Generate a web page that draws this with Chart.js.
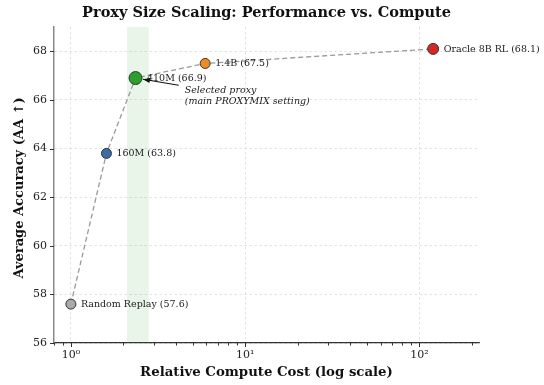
<!DOCTYPE html>
<html>
<head>
<meta charset="utf-8">
<script src="https://cdn.jsdelivr.net/npm/chart.js@4.4.1/dist/chart.umd.min.js"></script>
<style>
  html, body { margin: 0; padding: 0; background: #fff; }
  #wrap { width: 544px; height: 385px; }
</style>
</head>
<body>
<div id="wrap"><canvas id="c" width="544" height="385"></canvas></div>
<script>
// Proxy model sizes and their compute / accuracy
const names = ['Random Replay', '160M', '410M', '1.4B', 'Oracle 8B RL'];
const compute = [1.0, 1.6, 2.35, 5.9, 120];
const accuracy = [57.6, 63.8, 66.9, 67.5, 68.1];
const pointColors = ['#aaaaaa', '#3b6ea8', '#2ca02c', '#f28a24', '#d62728'];
const pointSizes = [5, 5, 6.5, 5, 5.5];

// Axis ranges and ticks
const xRange = [0.8, 220];
const yRange = [56, 69];
const yTicks = [56, 58, 60, 62, 64, 66, 68];
const xMajor = [1, 10, 100];
const xMajorLabels = ['10⁰', '10¹', '10²'];

// Highlighted compute band around the selected proxy
const bandRange = [2.1, 2.8];
const selectedIndex = 2;
const noteLines = ['Selected proxy', '(main PROXYMIX setting)'];
const notePos = [4.5, 66.4];

const SERIF = '"DejaVu Serif", "Liberation Serif", serif';

const xMinor = [];
for (let d = 0.1; d <= 100; d *= 10) {
  for (let k = 1; k <= 9; k++) {
    const v = +(k * d).toPrecision(3);
    if (v >= xRange[0] && v <= xRange[1] && !xMajor.includes(v)) xMinor.push(v);
  }
}

const decor = {
  id: 'decor',
  beforeDatasetsDraw(chart) {
    const { ctx, chartArea: a, scales: { x } } = chart;
    const x0 = x.getPixelForValue(bandRange[0]);
    const x1 = x.getPixelForValue(bandRange[1]);
    ctx.save();
    ctx.fillStyle = 'rgba(44,160,44,0.10)';
    ctx.fillRect(x0, a.top, x1 - x0, a.bottom - a.top);
    ctx.restore();
  },
  afterDatasetsDraw(chart) {
    const { ctx, scales: { x, y } } = chart;
    ctx.save();
    ctx.fillStyle = '#1a1a1a';
    ctx.font = '9.5px ' + SERIF;
    ctx.textBaseline = 'middle';
    ctx.textAlign = 'left';
    names.forEach((n, i) => {
      const px = x.getPixelForValue(compute[i]);
      const py = y.getPixelForValue(accuracy[i]);
      ctx.fillText(`${n} (${accuracy[i].toFixed(1)})`, px + pointSizes[i] + 5, py + 0.5);
    });

    // Note with arrow pointing at the selected proxy
    const tx = x.getPixelForValue(notePos[0]);
    const ty = y.getPixelForValue(notePos[1]);
    ctx.font = 'italic 9.5px ' + SERIF;
    noteLines.forEach((l, k) => ctx.fillText(l, tx, ty + k * 11.5));
    const sx = x.getPixelForValue(compute[selectedIndex]);
    const sy = y.getPixelForValue(accuracy[selectedIndex]);
    const startX = tx - 6, startY = ty - 5;
    const ang = Math.atan2(sy - startY, sx - startX);
    const endX = sx - Math.cos(ang) * (pointSizes[selectedIndex] + 1);
    const endY = sy - Math.sin(ang) * (pointSizes[selectedIndex] + 1);
    ctx.strokeStyle = '#111';
    ctx.fillStyle = '#111';
    ctx.lineWidth = 1.1;
    ctx.beginPath();
    ctx.moveTo(startX, startY);
    ctx.lineTo(endX, endY);
    ctx.stroke();
    const hl = 7, hw = 2.5;
    ctx.beginPath();
    ctx.moveTo(endX, endY);
    ctx.lineTo(endX - hl * Math.cos(ang) - hw * Math.sin(ang), endY - hl * Math.sin(ang) + hw * Math.cos(ang));
    ctx.lineTo(endX - hl * Math.cos(ang) + hw * Math.sin(ang), endY - hl * Math.sin(ang) - hw * Math.cos(ang));
    ctx.closePath();
    ctx.fill();
    ctx.restore();
  },
  afterDraw(chart) {
    const { ctx, chartArea: a, scales: { x, y } } = chart;
    ctx.save();
    // tick marks
    ctx.strokeStyle = '#333';
    ctx.lineWidth = 1;
    ctx.beginPath();
    xMajor.forEach(v => {
      const p = Math.round(x.getPixelForValue(v)) + 0.5;
      ctx.moveTo(p, a.bottom); ctx.lineTo(p, a.bottom + 4);
    });
    xMinor.forEach(v => {
      const p = Math.round(x.getPixelForValue(v)) + 0.5;
      ctx.moveTo(p, a.bottom); ctx.lineTo(p, a.bottom + 2.5);
    });
    yTicks.forEach(v => {
      const p = Math.round(y.getPixelForValue(v)) + 0.5;
      ctx.moveTo(a.left - 4, p); ctx.lineTo(a.left, p);
    });
    ctx.stroke();

    // titles
    ctx.fillStyle = '#111';
    ctx.textAlign = 'center';
    ctx.textBaseline = 'middle';
    ctx.font = 'bold 14.5px ' + SERIF;
    ctx.fillText('Proxy Size Scaling: Performance vs. Compute', (a.left + a.right) / 2, 13);
    ctx.font = 'bold 13.3px ' + SERIF;
    ctx.fillText('Relative Compute Cost (log scale)', (a.left + a.right) / 2, 373);
    ctx.font = 'bold 13px ' + SERIF;
    ctx.translate(20, (a.top + a.bottom) / 2 + 3);
    ctx.rotate(-Math.PI / 2);
    ctx.fillText('Average Accuracy (AA ↑)', 0, 0);
    ctx.restore();
  }
};

new Chart(document.getElementById('c'), {
  type: 'scatter',
  data: {
    datasets: [{
      data: compute.map((c, i) => ({ x: c, y: accuracy[i] })),
      showLine: true,
      borderColor: '#999999',
      borderWidth: 1.3,
      borderDash: [5, 3],
      pointBackgroundColor: pointColors,
      pointBorderColor: '#333',
      pointBorderWidth: 1,
      pointRadius: pointSizes,
      pointHoverRadius: pointSizes
    }]
  },
  options: {
    responsive: false,
    animation: false,
    events: [],
    layout: { padding: { top: 27, right: 65, left: 0, bottom: 0 } },
    plugins: { legend: { display: false }, tooltip: { enabled: false }, title: { display: false } },
    scales: {
      x: {
        type: 'logarithmic',
        min: xRange[0], max: xRange[1],
        afterBuildTicks(s) { s.ticks = xMajor.map(v => ({ value: v, major: true })); },
        afterFit(s) { s.height = 42; },
        grid: { color: '#dcdcdc', lineWidth: 0.8, drawTicks: false },
        border: { display: true, color: '#333', width: 1.2, dash: [2.5, 2.5] },
        ticks: {
          padding: 6,
          color: '#222',
          font: { family: SERIF, size: 11 },
          callback: (v, i) => xMajorLabels[i],
          maxRotation: 0, autoSkip: false
        }
      },
      y: {
        min: yRange[0], max: yRange[1],
        afterBuildTicks(s) { s.ticks = yTicks.map(v => ({ value: v })); },
        afterFit(s) { s.width = 54; },
        grid: { color: '#dcdcdc', lineWidth: 0.8, drawTicks: false },
        border: { display: true, color: '#888', width: 1.5, dash: [2.5, 2.5] },
        ticks: {
          padding: 7,
          color: '#222',
          font: { family: SERIF, size: 11 },
          callback: v => String(v)
        }
      }
    }
  },
  plugins: [decor]
});
</script>
</body>
</html>
